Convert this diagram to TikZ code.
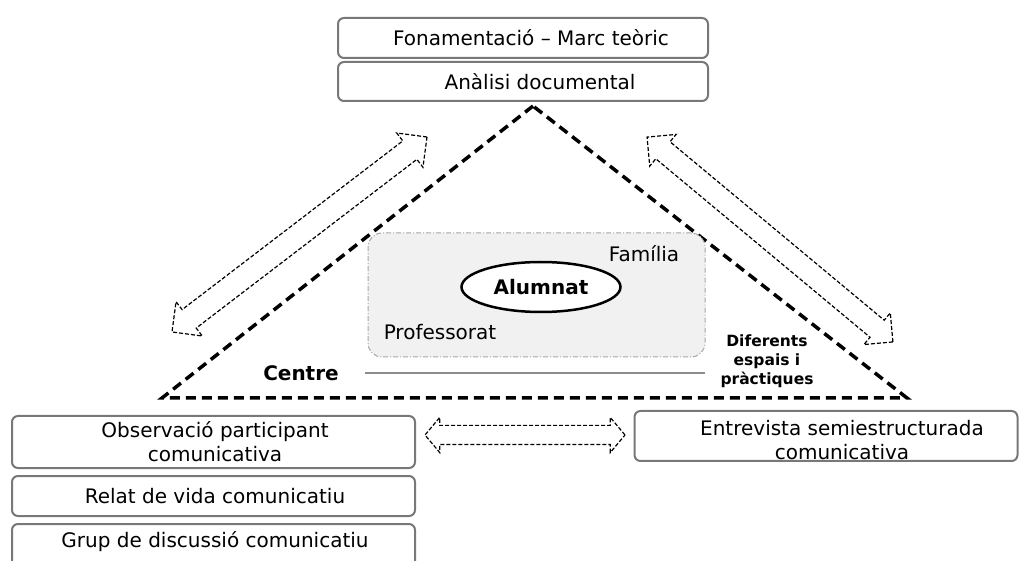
\documentclass[tikz,border=0pt]{standalone}
\usepackage{fontspec}
\setmainfont{DejaVu Sans}
\usetikzlibrary{shapes.geometric,shapes.arrows}
\definecolor{boxgray}{HTML}{787878}
\definecolor{zonefill}{HTML}{F1F1F1}
\definecolor{zoneline}{HTML}{A6A6A6}
\definecolor{rulegray}{HTML}{8C8C8C}
\begin{document}
\begin{tikzpicture}[x=1pt,y=-1pt,
  methodbox/.style={draw=boxgray, line width=2pt, rounded corners=6pt, fill=white, inner sep=0pt},
  boxtext/.style={font=\fontsize{20}{24}\selectfont, align=center, inner sep=0pt},
  tri/.style={line width=3.5pt, dash pattern=on 10pt off 6pt, line join=miter},
  flow/.style={double arrow, draw=black, line width=1.2pt, dash pattern=on 4pt off 2pt,
    inner xsep=0pt, double arrow tip angle=90},
]
\useasboundingbox (0,0) rectangle (1029,561);

% top boxes
\node[methodbox, minimum width=370, minimum height=40] (fon) at (523,38) {};
\node[boxtext] (fonT) at (531,38) {Fonamentació – Marc teòric};
\node[methodbox, minimum width=370, minimum height=39] (ana) at (523,81.5) {};
\node[boxtext] (anaT) at (540,81.5) {Anàlisi documental};

% triangle
\coordinate (apex) at (533,106);
\coordinate (bl) at (162,398);
\coordinate (br) at (907,398);
\draw[tri] (apex) -- (bl) -- (br) -- cycle;

% inner zone
\node[draw=zoneline, line width=1pt, dash pattern=on 5pt off 2pt on 1pt off 2pt,
  fill=zonefill, rounded corners=14pt, minimum width=337, minimum height=124,
  inner sep=0pt] (zone) at (536.5,295) {};
\node[draw=black, line width=2.5pt, fill=white, ellipse, minimum width=159,
  minimum height=50, inner sep=0pt, font=\fontsize{20}{24}\selectfont\bfseries] (alum) at (541,287) {Alumnat};
\node[boxtext] (fam) at (644,254) {Família};
\node[boxtext] (prof) at (440,332) {Professorat};

% base rule and labels
\coordinate (ruleL) at (365,373);
\coordinate (ruleR) at (705,373);
\draw[rulegray, line width=2.5pt] (ruleL) -- (ruleR);
\node[boxtext, font=\fontsize{20}{24}\selectfont\bfseries] (centre) at (301,373) {Centre};
\node[boxtext, font=\fontsize{15.5}{19}\selectfont\bfseries] (dif) at (767,361) {Diferents\\espais i\\pràctiques};

% side exchange arrows
\node[flow, minimum height=321, inner ysep=11pt, double arrow head extend=10,
  rotate=37.4] (arrL) at (299.5,234.5) {};
\node[flow, minimum height=320, inner ysep=10.5pt, double arrow head extend=9.5,
  rotate=-39.8] (arrR) at (770,239.5) {};

% bottom boxes
\node[methodbox, minimum width=403, minimum height=52] (obs) at (213.5,442) {};
\node[boxtext] (obsT) at (215,441.5) {Observació participant\\comunicativa};
\node[methodbox, minimum width=403, minimum height=40] (rel) at (213.5,496) {};
\node[boxtext] (relT) at (215,496) {Relat de vida comunicatiu};
\node[methodbox, minimum width=403, minimum height=50] (grup) at (213.5,549) {};
\node[boxtext] (grupT) at (215,542) {Grup de discussió comunicatiu};

\node[methodbox, minimum width=383, minimum height=50] (ent) at (826,436) {};
\node[boxtext] (entT) at (842,440) {Entrevista semiestructurada\\comunicativa};

\node[flow, minimum height=200, inner ysep=9pt, double arrow head extend=8,
  double arrow tip angle=100] (arrH) at (525,435) {};
\end{tikzpicture}
\end{document}
